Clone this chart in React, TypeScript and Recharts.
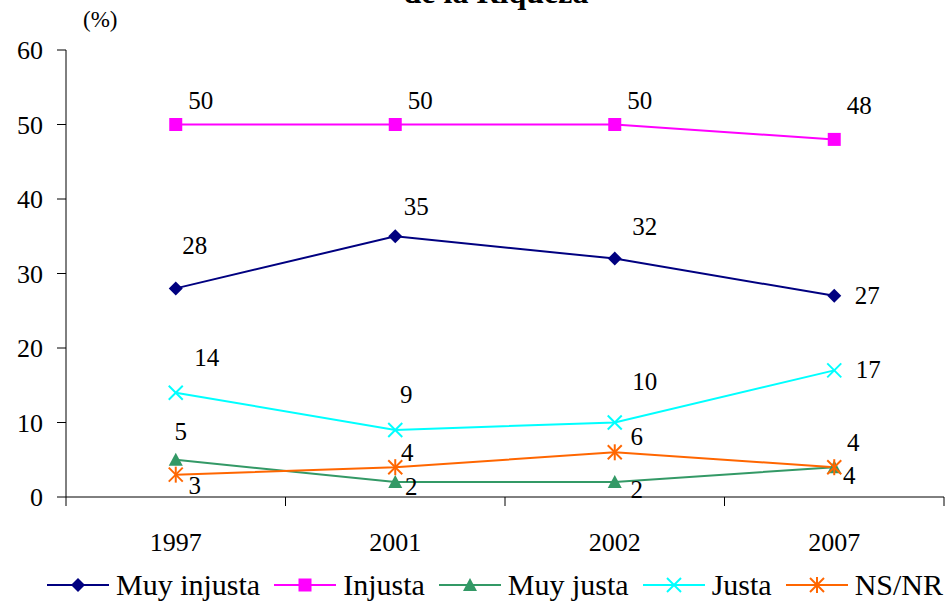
import React from "react"
import { LineChart, Line, XAxis, YAxis, Legend, LabelList } from "recharts"

const years = ["1997", "2001", "2002", "2007"]
const muyInjusta = [28, 35, 32, 27]
const injusta = [50, 50, 50, 48]
const muyJusta = [5, 2, 2, 4]
const justa = [14, 9, 10, 17]
const nsnr = [3, 4, 6, 4]
const yTicks = [0, 10, 20, 30, 40, 50, 60]

// label offsets (dx, dy) from each point, as placed in the original
const muyInjustaLabelPos = [[19, -43], [21, -30], [30, -32], [33, 0]]
const injustaLabelPos = [[25, -24], [25, -24], [25, -24], [25, -34]]
const muyJustaLabelPos = [[5, -28], [16, 4], [22, 7], [15, 8]]
const justaLabelPos = [[31, -35], [11, -35], [30, -41], [34, -1]]
const nsnrLabelPos = [[19, 11], [12, -15], [22, -16], [19, -25]]

const data = years.map((year, i) => ({
  year,
  muyInjusta: muyInjusta[i],
  injusta: injusta[i],
  muyJusta: muyJusta[i],
  justa: justa[i],
  nsnr: nsnr[i],
}))

const FONT = '"Liberation Serif", "Times New Roman", Times, serif'
const X_TICK_GAP = 36

type Shape = "diamond" | "square" | "triangle" | "x" | "star"

function Marker({ cx, cy, shape, color }: { cx: number; cy: number; shape: Shape; color: string }) {
  if (cx == null || cy == null) return null
  const r = 7
  if (shape === "diamond") {
    return <polygon points={`${cx},${cy - r} ${cx + r},${cy} ${cx},${cy + r} ${cx - r},${cy}`} fill={color} />
  }
  if (shape === "square") {
    return <rect x={cx - 6.5} y={cy - 6.5} width={13} height={13} fill={color} />
  }
  if (shape === "triangle") {
    return <polygon points={`${cx},${cy - r} ${cx + r},${cy + 6} ${cx - r},${cy + 6}`} fill={color} />
  }
  if (shape === "x") {
    return (
      <g stroke={color} strokeWidth={2}>
        <line x1={cx - r} y1={cy - r} x2={cx + r} y2={cy + r} />
        <line x1={cx - r} y1={cy + r} x2={cx + r} y2={cy - r} />
      </g>
    )
  }
  return (
    <g stroke={color} strokeWidth={2}>
      <line x1={cx - r} y1={cy - r} x2={cx + r} y2={cy + r} />
      <line x1={cx - r} y1={cy + r} x2={cx + r} y2={cy - r} />
      <line x1={cx} y1={cy - r - 1} x2={cx} y2={cy + r + 1} />
    </g>
  )
}

// category label plus Excel-style tick marks between the categories
function YearTick(props: any) {
  const { x, y, payload, index, visibleTicksCount } = props
  const half = payload.offset || 109.75
  const axisY = y - X_TICK_GAP
  return (
    <g>
      <line x1={x - half} y1={axisY} x2={x - half} y2={axisY + 9} stroke="#000" />
      {index === visibleTicksCount - 1 && <line x1={x + half} y1={axisY} x2={x + half} y2={axisY + 9} stroke="#000" />}
      <text x={x} y={y} dy="0.71em" textAnchor="middle" fontSize={26} fontFamily={FONT} fill="#000">
        {payload.value}
      </text>
    </g>
  )
}

const series = [
  { key: "muyInjusta", name: "Muy injusta", color: "#000080", shape: "diamond" as Shape, labels: muyInjustaLabelPos },
  { key: "injusta", name: "Injusta", color: "#FF00FF", shape: "square" as Shape, labels: injustaLabelPos },
  { key: "muyJusta", name: "Muy justa", color: "#339966", shape: "triangle" as Shape, labels: muyJustaLabelPos },
  { key: "justa", name: "Justa", color: "#00FFFF", shape: "x" as Shape, labels: justaLabelPos },
  { key: "nsnr", name: "NS/NR", color: "#FF6600", shape: "star" as Shape, labels: nsnrLabelPos },
]

const renderLegend = () => (
  <div style={{ display: "flex", alignItems: "center", height: 36, paddingLeft: 47, fontFamily: FONT, fontSize: 30, color: "#000" }}>
    {series.map((s) => (
      <div key={s.key} style={{ display: "flex", alignItems: "center", marginRight: 14, flexShrink: 0 }}>
        <svg width={62} height={20}>
          <line x1={0} y1={10} x2={62} y2={10} stroke={s.color} strokeWidth={2} />
          <Marker cx={31} cy={10} shape={s.shape} color={s.color} />
        </svg>
        <span style={{ marginLeft: 7, lineHeight: "36px", whiteSpace: "nowrap" }}>{s.name}</span>
      </div>
    ))}
  </div>
)

export default function App() {
  return (
    <div style={{ position: "absolute", left: 0, top: 0, width: 951, height: 603, background: "#fff", fontFamily: FONT, overflow: "hidden" }}>
      <div style={{ position: "absolute", left: 0, width: 992, top: -25, textAlign: "center", fontWeight: "bold", fontSize: 32, lineHeight: "34px", color: "#000" }}>
        de la Riqueza
      </div>
      <div style={{ position: "absolute", left: 83, top: 8, fontSize: 23, lineHeight: "24px", color: "#000" }}>(%)</div>
      <LineChart width={951} height={603} data={data} margin={{ top: 50, right: 7, left: 0, bottom: 0 }} style={{ fontFamily: FONT }}>
        <XAxis
          xAxisId="cat"
          dataKey="year"
          scale="band"
          axisLine={{ stroke: "#000" }}
          tickLine={false}
          tickSize={0}
          tickMargin={X_TICK_GAP}
          height={70}
          interval={0}
          tick={<YearTick />}
        />
        <XAxis xAxisId="top" orientation="top" type="number" domain={[0, 1]} tick={false} tickLine={false} height={0} axisLine={{ stroke: "#000" }} />
        <YAxis
          domain={[0, 60]}
          ticks={yTicks}
          width={66}
          tickSize={9}
          tickMargin={14}
          axisLine={{ stroke: "#000" }}
          tickLine={{ stroke: "#000" }}
          tick={{ fill: "#000", fontSize: 26, fontFamily: FONT }}
        />
        <YAxis yAxisId="right" orientation="right" type="number" domain={[0, 1]} width={0} tick={false} tickLine={false} axisLine={{ stroke: "#000" }} />
        <Legend verticalAlign="bottom" height={36} content={renderLegend} wrapperStyle={{ left: 0, bottom: 0, width: 951 }} />
        {series.map((s) => (
          <Line
            key={s.key}
            xAxisId="cat"
            dataKey={s.key}
            name={s.name}
            stroke={s.color}
            strokeWidth={2}
            isAnimationActive={false}
            activeDot={false}
            dot={(p: any) => <Marker key={`${s.key}-${p.index}`} cx={p.cx} cy={p.cy} shape={s.shape} color={s.color} />}
          >
            <LabelList
              dataKey={s.key}
              content={(p: any) => (
                <text
                  x={p.x + s.labels[p.index][0]}
                  y={p.y + s.labels[p.index][1]}
                  textAnchor="middle"
                  dominantBaseline="central"
                  fontSize={25}
                  fontFamily={FONT}
                  fill="#000"
                >
                  {p.value}
                </text>
              )}
            />
          </Line>
        ))}
      </LineChart>
    </div>
  )
}
